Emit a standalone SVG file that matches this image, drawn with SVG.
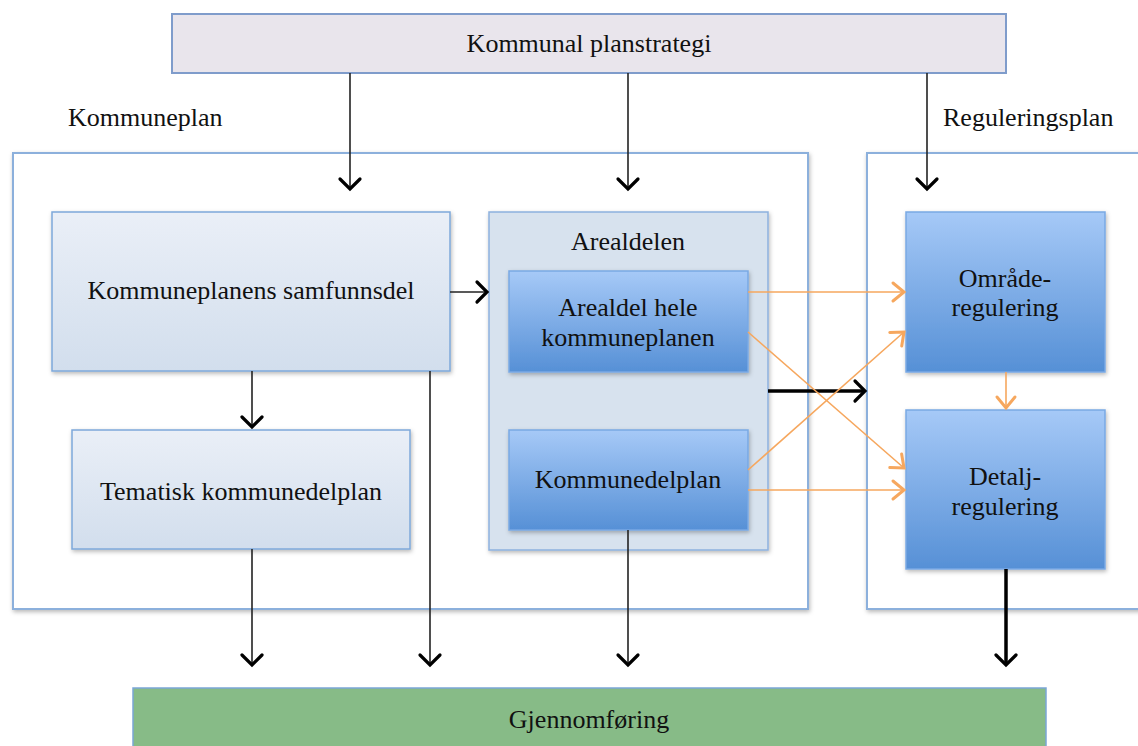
<svg xmlns="http://www.w3.org/2000/svg" width="1138" height="746" viewBox="0 0 1138 746">
  <style>
    text { font-family: "Liberation Serif", "Times New Roman", serif; font-size: 26px; fill: #111; text-anchor: middle; }
    .lbl { text-anchor: start; }
    .outer { fill: #ffffff; stroke: #8cb0dc; stroke-width: 2; }
    .pale { fill: url(#paleGrad); stroke: #7ea8da; stroke-width: 1.5; }
    .blue { fill: url(#blueGrad); stroke: #79a9e4; stroke-width: 1.5; }
    .link { fill: none; stroke: #222; stroke-width: 1.6; }
    .heavy { fill: none; stroke: #000; stroke-width: 3.5; }
    .orange { fill: none; stroke: #f6a75e; stroke-width: 1.6; }
  </style>
  <defs>
    <linearGradient id="paleGrad" x1="0" y1="0" x2="0" y2="1">
      <stop offset="0" stop-color="#eaeff7"/>
      <stop offset="1" stop-color="#d2deed"/>
    </linearGradient>
    <linearGradient id="blueGrad" x1="0" y1="0" x2="0" y2="1">
      <stop offset="0" stop-color="#a6c9f7"/>
      <stop offset="1" stop-color="#5690d6"/>
    </linearGradient>
    <filter id="shadow" x="-10%" y="-10%" width="120%" height="130%">
      <feDropShadow dx="1" dy="2" stdDeviation="2" flood-color="#000" flood-opacity="0.28"/>
    </filter>
    <marker id="arrowBlack" markerUnits="userSpaceOnUse" markerWidth="30" markerHeight="30" viewBox="-15 -15 30 30" refX="0" refY="0" orient="auto">
      <path d="M-10,-10 L0,0 L-10,10" fill="none" stroke="#000" stroke-width="3.2" stroke-linecap="round" stroke-linejoin="miter"/>
    </marker>
    <marker id="arrowOrange" markerUnits="userSpaceOnUse" markerWidth="30" markerHeight="30" viewBox="-15 -15 30 30" refX="0" refY="0" orient="auto">
      <path d="M-11,-9 L0,0 L-11,9" fill="none" stroke="#f6a75e" stroke-width="3" stroke-linecap="round"/>
    </marker>
  </defs>

  <!-- planning levels -->
  <g id="kommunal-planstrategi">
    <rect x="172" y="14" width="834" height="59" fill="#e9e5ec" stroke="#7f9ccb" stroke-width="2"/>
    <text x="589" y="52">Kommunal planstrategi</text>
  </g>

  <g id="kommuneplan">
    <rect class="outer" x="13" y="153" width="795" height="456" filter="url(#shadow)"/>
    <text class="lbl" x="68" y="126">Kommuneplan</text>
  </g>

  <g id="reguleringsplan">
    <rect class="outer" x="867" y="153" width="300" height="456" filter="url(#shadow)"/>
    <text class="lbl" x="943" y="126">Reguleringsplan</text>
  </g>

  <g id="samfunnsdel">
    <rect class="pale" x="52" y="212" width="398" height="159" filter="url(#shadow)"/>
    <text x="251" y="299">Kommuneplanens samfunnsdel</text>
  </g>

  <g id="tematisk">
    <rect class="pale" x="72" y="430" width="338" height="119" filter="url(#shadow)"/>
    <text x="241" y="500">Tematisk kommunedelplan</text>
  </g>

  <g id="arealdelen">
    <rect x="489" y="212" width="279" height="338" fill="#d7e2ee" stroke="#8db1de" stroke-width="1.5" filter="url(#shadow)"/>
    <text x="628" y="250">Arealdelen</text>
  </g>

  <g id="arealdel-hele">
    <rect class="blue" x="509" y="271" width="239" height="101" filter="url(#shadow)"/>
    <text x="628" y="316">Arealdel hele</text>
    <text x="628" y="346">kommuneplanen</text>
  </g>

  <g id="kommunedelplan">
    <rect class="blue" x="509" y="430" width="239" height="100" filter="url(#shadow)"/>
    <text x="628" y="488">Kommunedelplan</text>
  </g>

  <g id="omraderegulering">
    <rect class="blue" x="906" y="212" width="199" height="160" filter="url(#shadow)"/>
    <text x="1005" y="287">Område-</text>
    <text x="1005" y="316">regulering</text>
  </g>

  <g id="detaljregulering">
    <rect class="blue" x="906" y="410" width="199" height="159" filter="url(#shadow)"/>
    <text x="1005" y="485">Detalj-</text>
    <text x="1005" y="515">regulering</text>
  </g>

  <g id="gjennomforing">
    <rect x="133" y="688" width="913" height="70" fill="#87bb87" stroke="#7ba6d6" stroke-width="1.5"/>
    <text x="589" y="728">Gjennomføring</text>
  </g>

  <!-- connectors -->
  <g id="connectors">
    <line class="link" x1="350" y1="73" x2="350" y2="189" marker-end="url(#arrowBlack)"/>
    <line class="link" x1="628" y1="73" x2="628" y2="189" marker-end="url(#arrowBlack)"/>
    <line class="link" x1="927" y1="73" x2="927" y2="189" marker-end="url(#arrowBlack)"/>
    <line class="link" x1="450" y1="292" x2="487" y2="292" marker-end="url(#arrowBlack)"/>
    <line class="link" x1="252" y1="371" x2="252" y2="427" marker-end="url(#arrowBlack)"/>
    <line class="link" x1="252" y1="549" x2="252" y2="665" marker-end="url(#arrowBlack)"/>
    <line class="link" x1="430" y1="371" x2="430" y2="665" marker-end="url(#arrowBlack)"/>
    <line class="link" x1="628" y1="530" x2="628" y2="665" marker-end="url(#arrowBlack)"/>
    <line class="heavy" x1="1006" y1="569" x2="1006" y2="665" marker-end="url(#arrowBlack)"/>
    <line class="heavy" x1="768" y1="391" x2="865" y2="391" marker-end="url(#arrowBlack)"/>

    <line class="orange" x1="748" y1="292" x2="904" y2="292" marker-end="url(#arrowOrange)"/>
    <line class="orange" x1="748" y1="332" x2="904" y2="468" marker-end="url(#arrowOrange)"/>
    <line class="orange" x1="748" y1="470" x2="904" y2="332" marker-end="url(#arrowOrange)"/>
    <line class="orange" x1="748" y1="490" x2="904" y2="490" marker-end="url(#arrowOrange)"/>
    <line class="orange" x1="1006" y1="372" x2="1006" y2="408" marker-end="url(#arrowOrange)"/>
  </g>
</svg>
